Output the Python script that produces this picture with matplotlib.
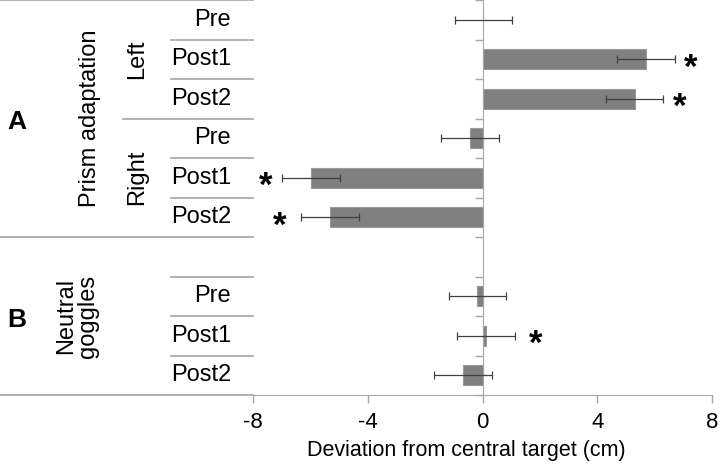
import numpy as np
import matplotlib.pyplot as plt
from matplotlib.transforms import blended_transform_factory

plt.rcParams['font.family'] = ['Liberation Sans', 'DejaVu Sans']

# data (slot 6 is the gap between groups A and B)
conditions = ['Pre', 'Post1', 'Post2', 'Pre', 'Post1', 'Post2', 'Pre', 'Post1', 'Post2']
positions = [0, 1, 2, 3, 4, 5, 7, 8, 9]
means = [0.03, 5.70, 5.30, -0.44, -5.98, -5.32, -0.18, 0.12, -0.68]
errors = [1.0, 1.0, 1.0, 1.0, 1.0, 1.0, 1.0, 1.0, 1.0]
signif = [False, True, True, False, True, True, False, True, False]
star_x = [0, 7.27, 6.86, 0, -7.56, -7.07, 0, 1.85, 0]

grey = '#a6a6a6'

fig = plt.figure(figsize=(7.2, 4.66), dpi=100)
ax = fig.add_axes([253 / 720, 71 / 466, 459 / 720, 395 / 466])

ax.barh(positions, means, height=0.5, color='#808080', edgecolor='#9a9a9a', linewidth=0.8, zorder=2)
ax.errorbar(means, positions, xerr=errors, fmt='none', ecolor='#404040', elinewidth=0.9,
            capsize=3, capthick=0.9, zorder=3)

for p, s, sx in zip(positions, signif, star_x):
    if s:
        ax.text(sx, p + 0.22, '*', fontsize=25, fontweight='bold', ha='center', va='center')

ax.set_xlim(-8, 8)
ax.set_ylim(9.5, -0.5)
ax.set_xticks([-8, -4, 0, 4, 8])
ax.set_xticklabels(['-8', '-4', '0', '4', '8'], fontsize=16)
ax.set_yticks(np.arange(-0.5, 10, 1))
ax.set_yticklabels([])
ax.tick_params(axis='y', direction='out', length=6, color=grey, width=1)
ax.tick_params(axis='x', direction='out', length=6, color=grey, width=1, pad=6)
ax.spines['left'].set_position(('data', 0))
ax.spines['left'].set_color(grey)
ax.spines['bottom'].set_color(grey)
ax.spines['top'].set_visible(False)
ax.spines['right'].set_visible(False)
ax.set_xlabel('Deviation from central target (cm)', fontsize=15.5)
ax.xaxis.set_label_coords(0.464, -0.115)

# label table on the left
tr = blended_transform_factory(ax.transAxes, ax.transData)
x_full, x_side, x_cond = -0.551, -0.283, -0.1786
line_kw = dict(transform=tr, clip_on=False, color=grey, lw=1.2)
for y in [-0.5, 5.5, 9.5]:
    ax.plot([x_full, 0], [y, y], **line_kw)
ax.plot([x_side, 0], [2.5, 2.5], **line_kw)
for y in [0.5, 1.5, 3.5, 4.5, 6.5, 7.5, 8.5]:
    ax.plot([x_cond, 0], [y, y], **line_kw)

for p, c in zip(positions, conditions):
    ax.text(-0.048, p, c, transform=tr, ha='right', va='center', fontsize=17)

ax.text(-0.253, 1, 'Left', transform=tr, rotation=90, ha='center', va='center', fontsize=17)
ax.text(-0.253, 4, 'Right', transform=tr, rotation=90, ha='center', va='center', fontsize=17)
ax.text(-0.355, 2.5, 'Prism adaptation', transform=tr, rotation=90, ha='center', va='center', fontsize=17)
ax.text(-0.383, 7.5, 'Neutral\ngoggles', transform=tr, rotation=90, ha='center', va='center',
        fontsize=17, linespacing=1.0)
ax.text(-0.514, 2.6, 'A', transform=tr, ha='center', va='center', fontsize=19, fontweight='bold')
ax.text(-0.514, 7.6, 'B', transform=tr, ha='center', va='center', fontsize=19, fontweight='bold')

fig.savefig('out.png', dpi=100)
